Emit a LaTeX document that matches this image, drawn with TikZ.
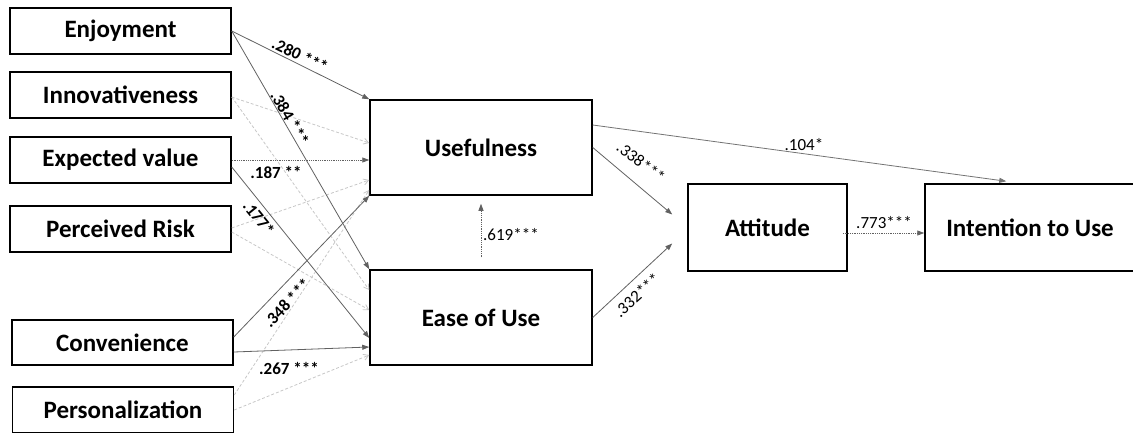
\documentclass[tikz,border=0pt]{standalone}
\usepackage{fontspec}
\setmainfont{Carlito}
\usetikzlibrary{arrows.meta,calc}
\begin{document}
\begin{tikzpicture}[x=1pt,y=-1pt,
  box/.style={draw=black,line width=1.5pt,fill=white,font=\fontsize{25}{29}\selectfont\bfseries,inner sep=0pt},
  lbox/.style={box,minimum width=221pt,minimum height=46pt},
  mbox/.style={box,minimum width=222pt,minimum height=95pt},
  sarr/.style={draw=black!62,line width=0.8pt,-{Triangle[length=7pt,width=5pt]}},
  darr/.style={draw=black!62,line width=0.8pt,densely dotted,-{Triangle[length=7pt,width=5pt]}},
  garr/.style={draw=black!22,line width=0.8pt,densely dashed,-{Straight Barb[length=5pt,width=6pt]}},
  blab/.style={font=\fontsize{17}{19}\selectfont\bfseries,inner sep=0pt},
  rlab/.style={font=\fontsize{17}{19}\selectfont,inner sep=0pt}]
\useasboundingbox (0,0) rectangle (1133,432);
% left boxes
\node[lbox] (enj) at (120.5,31) {Enjoyment};
\node[lbox] (inn) at (120.5,95) {Innovativeness};
\node[lbox] (exv) at (120.5,160) {Expected value};
\node[lbox] (per) at (120.5,229) {Perceived Risk};
\node[lbox,minimum height=45pt] (con) at (122.5,342.5) {Convenience};
\node[lbox] (pers) at (123,410) {Personalization};
% middle boxes
\node[mbox] (use) at (481,147.5) {Usefulness};
\node[mbox] (ease) at (481,317.5) {Ease of Use};
% right boxes
\node[box,minimum width=159pt,minimum height=87pt] (att) at (767.5,227.5) {Attitude};
\node[box,minimum width=210pt,minimum height=87pt] (int) at (1030,227.5) {Intention to Use};
% light dotted (non-significant) paths
\draw[garr] ([yshift=-2]inn.east) -- ([yshift=4.5]use.west);
\draw[garr] ([yshift=-2]inn.east) -- ([yshift=27.5]ease.west);
\draw[garr] ([yshift=1]per.east) -- ([yshift=-32.5]use.west);
\draw[garr] ([yshift=-3]per.east) -- ([yshift=7.5]ease.west);
\draw[garr] ([yshift=15]pers.east) -- ([yshift=-42.5]use.west);
\draw[garr] (pers.east) -- ([yshift=-37.5]ease.west);
% significant paths from antecedents
\draw[sarr] (enj.east) -- (use.north west);
\draw[sarr] (enj.east) -- (ease.north west);
\draw[darr] (exv.east) -- ([yshift=-12.5]use.west);
\draw[sarr] ([yshift=-7]exv.east) -- ([yshift=-20.5]ease.west);
\draw[sarr] ([yshift=5.5]con.east) -- (use.south west);
\draw[sarr] ([yshift=-9.5]con.east) -- ([yshift=-29.5]ease.west);
% labels of antecedent paths
\node[blab,rotate=-26] (l280) at (300,55) {.280 ***};
\node[blab,rotate=-60] (l384) at (290,118) {.384 ***};
\node[blab] (l187) at (276,172) {.187 **};
\node[blab,rotate=-51] (l177) at (259,218) {.177*};
\node[blab,rotate=46] (l348) at (287,303) {.348 ***};
\node[blab] (l267) at (289,368) {.267 ***};
% structural paths
\coordinate (tip1) at ($(att.west)+(-15,-13)$);
\coordinate (tip2) at ($(att.west)+(-15,16)$);
\draw[darr] ([yshift=12]ease.north) -- ([yshift=-8]use.south);
\draw[sarr] (use.east) -- (tip1);
\draw[sarr] (ease.east) -- (tip2);
\draw[sarr,draw=black!55] ([yshift=22.5]use.east) -- ([xshift=82,yshift=2]int.north west);
\draw[darr] ([xshift=-5,yshift=-5.5]att.east) -- ([yshift=-5.5]int.west);
\node[rlab,anchor=west] (l619) at (483,235) {.619***};
\node[rlab,rotate=-38] (l338) at (641,162) {.338***};
\node[rlab,rotate=42] (l332) at (637,295) {.332***};
\node[rlab] (l104) at (804,145) {.104*};
\node[rlab] (l773) at (884,223) {.773***};
\end{tikzpicture}
\end{document}
